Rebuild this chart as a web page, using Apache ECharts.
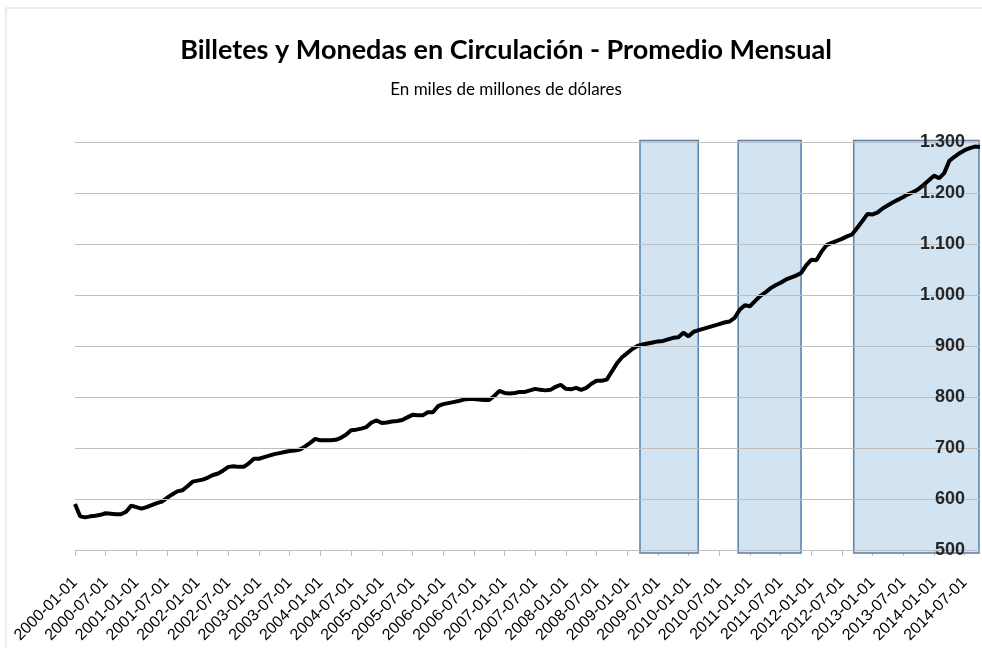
<!DOCTYPE html>
<html>
<head>
<meta charset="utf-8">
<script src="https://cdn.jsdelivr.net/npm/echarts@6/dist/echarts.min.js"></script>
<style>
  html, body { margin: 0; padding: 0; background: #fff; }
  #chart { width: 982px; height: 648px; }
</style>
</head>
<body>
<div id="chart"></div>
<script>
// monthly average, billions of dollars, 2000-01 .. 2014-10
const startYear = 2000;
const monthCount = 178;

const circulation = [
  590, 566, 564, 566, 567, 569, 572, 571, 570, 570, 575, 587,
  584, 581, 584, 588, 592, 595, 602, 609, 615, 617, 625, 634,
  636, 638, 642, 647, 650, 656, 663, 664, 663, 663, 670, 679,
  679, 682, 685, 688, 690, 692, 694, 695, 697, 703, 710, 718,
  715, 715, 715, 716, 720, 726, 735, 736, 738, 741, 750, 754,
  749, 750, 752, 753, 755, 760, 765, 764, 764, 770, 770, 782,
  786, 788, 790, 792, 795, 796, 796, 795, 794, 794, 802, 812,
  808, 807, 808, 810, 810, 813, 816, 814, 813, 814, 820, 824,
  816, 815, 818, 814, 818, 826, 832, 832, 834, 850, 866, 878,
  886, 894, 900, 903, 905, 907, 909, 910, 913, 916, 917, 926,
  919, 928, 931, 934, 937, 940, 943, 946, 948, 955, 971, 980,
  978, 988, 998, 1005, 1013, 1019, 1024, 1030, 1034, 1038, 1043, 1058,
  1069, 1068, 1085, 1098, 1102, 1106, 1110, 1115, 1119, 1132, 1145, 1159,
  1158, 1162, 1170, 1176, 1182, 1187, 1192, 1198, 1202, 1208, 1216, 1225,
  1234, 1229, 1239, 1263, 1271, 1278, 1284, 1288, 1291, 1290
];

// shaded periods, in months counted from 2000-01
const periodStart = [110.5, 129.7, 152.3];
const periodEnd = [121.9, 142.0, 176.8];

const yTicks = [500, 600, 700, 800, 900, 1000, 1100, 1200, 1300];

const months = [];
for (let i = 0; i < monthCount; i++) {
  const y = startYear + Math.floor(i / 12);
  const m = (i % 12) + 1;
  months.push(y + "-" + (m < 10 ? "0" + m : m) + "-01");
}

const periods = periodStart.map((s, i) => [s, periodEnd[i]]);

const chart = echarts.init(document.getElementById("chart"));

const options = {
  animation: false,
  textStyle: { fontFamily: "Liberation Sans" },
  title: [
    {
      text: "Billetes y Monedas en Circulación - Promedio Mensual",
      left: 501,
      top: 32,
      textAlign: "center",
      textStyle: { fontSize: 27, fontWeight: "bold", color: "#000", fontFamily: "Lato" },
    },
    {
      text: "En miles de millones de dólares",
      left: 501,
      top: 76,
      textAlign: "center",
      textStyle: { fontSize: 17, fontWeight: "normal", color: "#000", fontFamily: "Lato" },
    },
  ],
  graphic: [
    {
      type: "rect",
      shape: { x: 6, y: 8, width: 1000, height: 700 },
      style: { fill: "none", stroke: "#d9d9d9", lineWidth: 1 },
      silent: true,
    },
  ],
  grid: {
    left: 75,
    right: 2,
    top: 142,
    bottom: 98,
  },
  xAxis: [
    {
      type: "category",
      data: months,
      boundaryGap: false,
      axisLine: { lineStyle: { color: "#bfbfbf" } },
      axisTick: { interval: 5, length: 6, lineStyle: { color: "#bfbfbf" } },
      axisLabel: {
        interval: 5,
        rotate: 45,
        margin: 30,
        fontSize: 16,
        color: "#000",
      },
      splitLine: { show: false },
    },
    {
      type: "value",
      min: 0,
      max: monthCount - 1,
      show: false,
    },
  ],
  yAxis: {
    type: "value",
    position: "right",
    z: 5,
    min: yTicks[0],
    max: yTicks[yTicks.length - 1],
    interval: 100,
    axisLine: { show: false },
    axisTick: { show: false },
    axisLabel: {
      inside: true,
      margin: 15,
      fontSize: 18,
      fontWeight: "bold",
      color: "#262626",
      formatter: (v) => String(v).replace(/\B(?=(\d{3})+(?!\d))/g, "."),
    },
    splitLine: { lineStyle: { color: "#bfbfbf", width: 1 } },
  },
  series: [
    {
      type: "custom",
      xAxisIndex: 1,
      clip: false,
      z: 1,
      data: periods,
      renderItem: function (params, api) {
        const p0 = api.coord([api.value(0), yTicks[yTicks.length - 1]]);
        const p1 = api.coord([api.value(1), yTicks[0]]);
        return {
          type: "rect",
          shape: { x: p0[0], y: p0[1] - 1.5, width: p1[0] - p0[0], height: p1[1] - p0[1] + 4.5 },
          style: { fill: "#d2e3f2", stroke: "#5580ad", lineWidth: 1.5 },
        };
      },
    },
    {
      type: "line",
      data: circulation,
      z: 3,
      symbol: "none",
      lineStyle: { color: "#000", width: 4 },
    },
  ],
};

chart.setOption(options);
</script>
</body>
</html>
